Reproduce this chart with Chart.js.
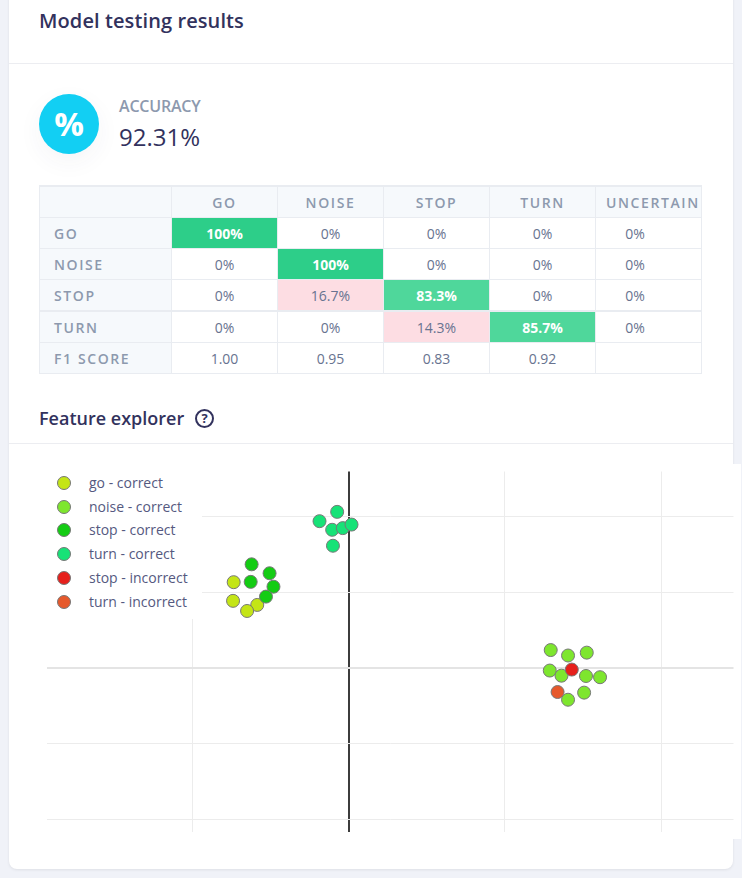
<!DOCTYPE html>
<html>
<head>
<meta charset="utf-8">
<title>Model testing results</title>
<script src="https://cdn.jsdelivr.net/npm/chart.js@4"></script>
<style>
    html, body { margin: 0; padding: 0; }
    body {
        width: 742px; height: 878px; overflow: hidden; position: relative;
        background: #f0f2f8; font-family: "Open Sans", sans-serif; color: #32325d;
    }
    #card {
        position: absolute; left: 9px; top: -10px; width: 724px; height: 879px;
        background: #fff; border-radius: 8px; box-shadow: 0 1px 3px rgba(0, 0, 0, 0.08);
    }
    .abs { position: absolute; white-space: nowrap; }
    .rule { position: absolute; left: 9px; width: 724px; height: 1px; background: #ecedf1; }
    #title { left: 39px; top: 7px; font-size: 20px; font-weight: 600; line-height: 28px; letter-spacing: 0.1px; }
    #icon {
        left: 39px; top: 94px; width: 60px; height: 60px; border-radius: 50%;
        background: #12cff3; color: #fff; font-size: 33px; font-weight: 700;
        line-height: 60px; text-align: center; box-shadow: 0 8px 24px rgba(50, 50, 93, 0.05);
    }
    #acc-label { left: 119px; top: 95px; font-size: 16px; font-weight: 600; line-height: 22px; color: #8d99ae; letter-spacing: -0.2px; }
    #acc-value { left: 119px; top: 120px; font-size: 24px; line-height: 34px; }
    #explorer { left: 39px; top: 405px; font-size: 18px; font-weight: 600; line-height: 26px; }
    #help {
        left: 195px; top: 409px; width: 15px; height: 15px; border: 2px solid #32325d; border-radius: 50%;
        font-size: 13px; font-weight: 700; line-height: 15px; text-align: center;
    }
    #matrix {
        position: absolute; left: 39px; top: 185px; table-layout: fixed; width: 663px;
        border-collapse: collapse; font-size: 14px; color: #687390;
    }
    #matrix td, #matrix th {
        border: 1px solid #e9ecf1; padding: 0; text-align: center; height: 30px;
        overflow: hidden; white-space: nowrap;
    }
    #matrix tr:first-child th { border-top: 2px solid #e9ecf1; }
    #matrix tr:nth-child(5) td, #matrix tr:nth-child(5) th { border-top: 2px solid #e9ecf1; }
    #matrix th { background: #f6f9fc; color: #8d99ae; font-weight: 600; letter-spacing: 1.6px; }
    #matrix th.row { text-align: left; padding-left: 14px; }
    #matrix th.cut { text-align: left; padding-left: 10px; }
    #matrix td.cut { padding-right: 27px; }
    #matrix td.good { background: #2dce89; color: #fff; font-weight: 700; }
    #matrix td.ok { background: #4fd79b; color: #fff; font-weight: 700; }
    #matrix td.bad { background: #fddde3; }
    #chart-wrap { position: absolute; left: 39px; top: 464px; width: 702px; height: 375px; background: #fff; }
    #legend {
        position: absolute; left: 39px; top: 464px; width: 163px; height: 155px;
        background: #fff; font-size: 14px; color: #55597f;
    }
    #legend div { position: absolute; left: 50px; line-height: 20px; white-space: nowrap; }
    #legend i {
        position: absolute; left: -32px; top: 3px; width: 12px; height: 12px; border-radius: 50%;
        border: 1px solid #777;
    }
</style>
</head>
<body>
<div id="card"></div>
<div id="title" class="abs">Model testing results</div>
<div class="rule" style="top:63px"></div>
<div id="icon" class="abs">%</div>
<div id="acc-label" class="abs">ACCURACY</div>
<div id="acc-value" class="abs">92.31%</div>
<table id="matrix"></table>
<div id="explorer" class="abs">Feature explorer</div>
<div id="help" class="abs">?</div>
<div class="rule" style="top:443px"></div>
<div id="chart-wrap"><canvas id="scatter" width="702" height="375"></canvas></div>
<div id="legend"></div>

<script>
// confusion matrix
const columns = ['GO', 'NOISE', 'STOP', 'TURN', 'UNCERTAIN'];
const rowNames = ['GO', 'NOISE', 'STOP', 'TURN'];
const goRow = ['100%', '0%', '0%', '0%', '0%'];
const noiseRow = ['0%', '100%', '0%', '0%', '0%'];
const stopRow = ['0%', '16.7%', '83.3%', '0%', '0%'];
const turnRow = ['0%', '0%', '14.3%', '85.7%', '0%'];
const f1Scores = ['1.00', '0.95', '0.83', '0.92', ''];

// feature explorer points
const goCorrectX = [-0.738, -0.742, -0.587, -0.652];
const goCorrectY = [1.133, 0.886, 0.832, 0.752];
const noiseCorrectX = [1.293, 1.404, 1.524, 1.287, 1.362, 1.519, 1.609, 1.507, 1.404];
const noiseCorrectY = [0.235, 0.163, 0.201, -0.036, -0.104, -0.108, -0.124, -0.328, -0.422];
const stopCorrectX = [-0.623, -0.508, -0.629, -0.483, -0.531];
const stopCorrectY = [1.369, 1.251, 1.137, 1.073, 0.942];
const turnCorrectX = [-0.075, -0.188, -0.107, -0.039, 0.017, -0.102];
const turnCorrectY = [2.063, 1.940, 1.826, 1.848, 1.895, 1.615];
const stopIncorrectX = [1.428];
const stopIncorrectY = [-0.023];
const turnIncorrectX = [1.337];
const turnIncorrectY = [-0.320];

const seriesNames = ['go - correct', 'noise - correct', 'stop - correct', 'turn - correct', 'stop - incorrect', 'turn - incorrect'];
const seriesColors = ['#c4e516', '#7ee62e', '#14cc14', '#17e277', '#e6201c', '#e6592c'];
const seriesX = [goCorrectX, noiseCorrectX, stopCorrectX, turnCorrectX, stopIncorrectX, turnIncorrectX];
const seriesY = [goCorrectY, noiseCorrectY, stopCorrectY, turnCorrectY, stopIncorrectY, turnIncorrectY];

function cellClass(value) {
    const num = parseFloat(value);
    if (num === 100) return 'good';
    if (num > 50) return 'ok';
    if (num > 0) return 'bad';
    return '';
}

function buildTable() {
    const table = document.getElementById('matrix');
    const rows = [goRow, noiseRow, stopRow, turnRow];
    let html = '<colgroup><col style="width:132px">' + columns.map(() => '<col style="width:106px">').join('') + '</colgroup>';

    html += '<tr style="height:31px"><th></th>' + columns.map((c, i) =>
        `<th class="${i === 4 ? 'cut' : ''}">${c}</th>`).join('') + '</tr>';

    rows.forEach((row, r) => {
        html += `<tr><th class="row">${rowNames[r]}</th>` + row.map((v, i) =>
            `<td class="${cellClass(v)} ${i === 4 ? 'cut' : ''}">${v}</td>`).join('') + '</tr>';
    });

    html += '<tr><th class="row">F1 SCORE</th>' + f1Scores.map((v) => `<td>${v}</td>`).join('') + '</tr>';
    table.innerHTML = html;
}

function buildLegend() {
    const legend = document.getElementById('legend');
    const tops = [9, 33, 56, 80, 104, 128];
    legend.innerHTML = seriesNames.map((name, i) =>
        `<div style="top:${tops[i]}px"><i style="background:${seriesColors[i]}"></i>${name}</div>`).join('');
}

function buildChart() {
    const ctx = document.getElementById('scatter').getContext('2d');
    new Chart(ctx, {
        type: 'scatter',
        data: {
            datasets: seriesNames.map((name, i) => ({
                label: name,
                data: seriesX[i].map((x, k) => ({ x: x, y: seriesY[i][k] })),
                backgroundColor: seriesColors[i],
                borderColor: '#777',
                borderWidth: 1,
                pointRadius: 6.5,
                order: -i
            }))
        },
        options: {
            responsive: false,
            animation: false,
            layout: { padding: 0 },
            plugins: {
                legend: { display: false },
                tooltip: { enabled: false }
            },
            scales: {
                x: {
                    min: -1.937,
                    max: 2.464,
                    ticks: { display: false, stepSize: 1, includeBounds: false },
                    border: { display: false },
                    grid: {
                        drawTicks: false,
                        color: (c) => (c.tick && c.tick.value === 0 ? '#3c3c3c' : '#ececec'),
                        lineWidth: (c) => (c.tick && c.tick.value === 0 ? 2 : 1)
                    }
                },
                y: {
                    min: -2.165,
                    max: 2.597,
                    ticks: { display: false, stepSize: 1, includeBounds: false },
                    border: { display: false },
                    grid: {
                        drawTicks: false,
                        color: (c) => (c.tick && c.tick.value === 0 ? '#e4e4e4' : '#ececec'),
                        lineWidth: (c) => (c.tick && c.tick.value === 0 ? 2 : 1)
                    }
                }
            }
        }
    });
}

buildTable();
buildLegend();
buildChart();
</script>
</body>
</html>
